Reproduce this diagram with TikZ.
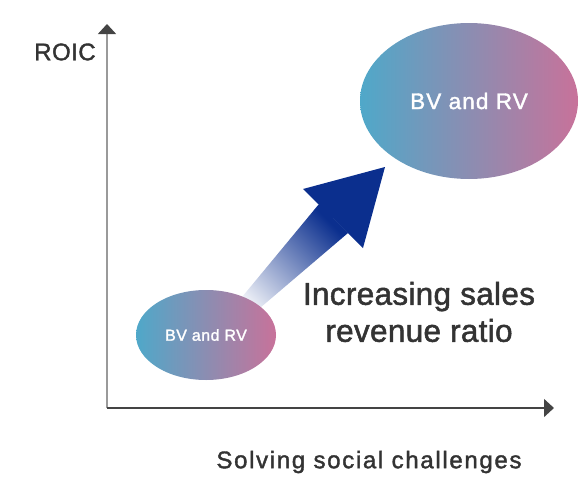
\documentclass[tikz,border=0pt]{standalone}
\usepackage{fontspec}
\setmainfont{Liberation Sans}[FakeBold=1.6]
\usetikzlibrary{shapes.geometric,arrows.meta}
\definecolor{ellL}{HTML}{4FA8C9}
\definecolor{ellR}{HTML}{C8729A}
\definecolor{navy}{HTML}{0B2F8E}
\definecolor{txt}{HTML}{333333}
\definecolor{axisg}{HTML}{9A9A9A}
\definecolor{axisd}{HTML}{444444}
\tikzset{
  bubble/.style={ellipse, inner sep=0pt, left color=ellL, right color=ellR, text=white},
  lbl/.style={text=txt, inner sep=0pt},
  axhead/.style={-{Triangle[length=10pt,width=18pt,color=axisd]}},
}
\begin{document}
\begin{tikzpicture}[x=1pt,y=-1pt]
\useasboundingbox (0,0) rectangle (582,477);
% axes
\coordinate (O) at (107,408);
\coordinate (ytop) at (107,24);
\coordinate (xend) at (554,408);
\draw[axisg, line width=1.5pt, axhead] (O) -- (ytop);
\draw[axisd, line width=1.5pt, axhead] (O) -- (xend);
% arrow shaft
\shade[top color=navy, bottom color=white, shading angle=-45]
  (319,204) -- (348,233) -- (240,325) -- (223,320) -- cycle;
% arrow head
\fill[navy] (385,167) -- (303,189) -- (363,248) -- cycle;
% bubbles
\node[bubble, minimum width=140pt, minimum height=90pt,
  font=\addfontfeatures{LetterSpace=3}\fontsize{16}{18}\selectfont] (small) at (206,335) {BV and RV};
\node[bubble, minimum width=218pt, minimum height=156pt,
  font=\addfontfeatures{LetterSpace=5}\fontsize{22.5}{26}\selectfont] (big) at (469,101) {BV and RV};
% labels
\node[lbl, font=\addfontfeatures{LetterSpace=2}\fontsize{24}{26}\selectfont] (roic) at (65,52) {ROIC};
\node[lbl, font=\addfontfeatures{LetterSpace=7}\fontsize{24}{26}\selectfont] (xlab) at (369,462) {Solving social challenges};
\node[lbl, align=center, font=\addfontfeatures{LetterSpace=1}\fontsize{31.5}{37}\selectfont] (incr) at (419,312) {Increasing sales\\revenue ratio};
\end{tikzpicture}
\end{document}
